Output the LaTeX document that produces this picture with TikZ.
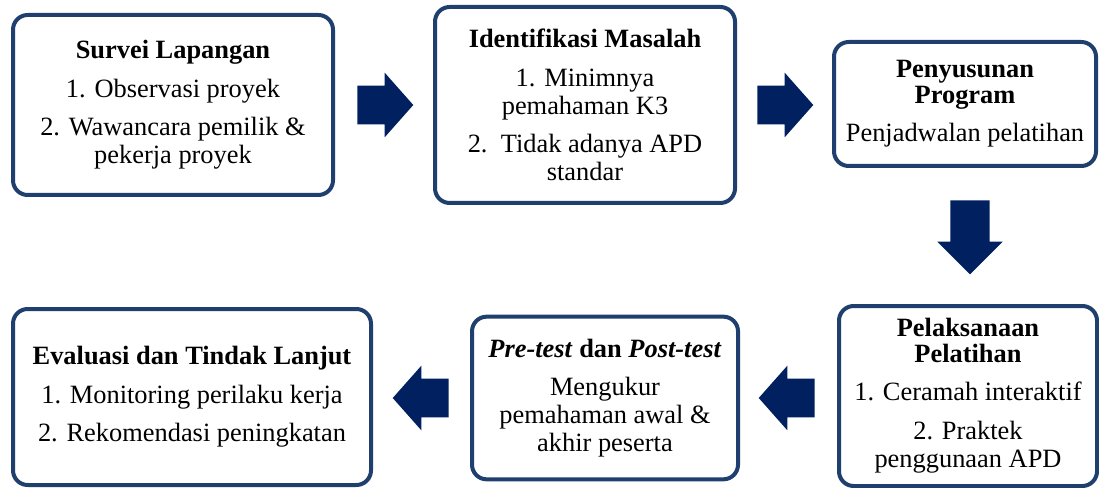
\documentclass[tikz,border=0pt]{standalone}
\usepackage{fontspec}
\setmainfont{Liberation Serif}
\usetikzlibrary{shapes.arrows,calc}

\definecolor{boxline}{RGB}{31,64,110}
\definecolor{navy}{RGB}{0,32,96}
\newcommand\gap{8pt}
\newcommand\shaft{\rule{0pt}{28.5pt}}
\newcommand\vshaft{\phantom{\rule{29pt}{29pt}}}

\tikzset{
  stage/.style={draw=boxline, line width=3pt, rounded corners=11pt, fill=white,
    align=center, inner sep=0pt, font=\fontsize{19.8}{21}\selectfont},
  blockarrow/.style={single arrow, fill=navy, draw=none, inner sep=0pt,
    single arrow head extend=9.75pt, anchor=tail,
    minimum height=42pt, single arrow tip angle=97},
}

\begin{document}
\begin{tikzpicture}[x=0.75pt, y=-0.75pt]

  \useasboundingbox (0,0) rectangle (1099,488);

  %% top row
  \node[stage, minimum width=240pt, minimum height=135pt] (surv) at (173,105)
    {\textbf{Survei Lapangan}\\[\gap]1. Observasi proyek\\[\gap]2. Wawancara pemilik \&\\pekerja proyek};
  \node[stage, minimum width=225pt, minimum height=147pt] (iden) at (585,105)
    {\textbf{Identifikasi Masalah}\\[\gap]1. Minimnya\\pemahaman K3\\[\gap]2.~~Tidak adanya APD\\standar};
  \node[stage, minimum width=196.5pt, minimum height=93pt] (prog) at (965,104)
    {\textbf{Penyusunan}\\[-2pt]\textbf{Program}\\[\gap]Penjadwalan pelatihan};

  %% bottom row
  \node[stage, minimum width=193.5pt, minimum height=135pt] (lat) at (968,396)
    {\textbf{Pelaksanaan}\\[-2pt]\textbf{Pelatihan}\\[\gap]1. Ceramah interaktif\\[\gap]2. Praktek\\penggunaan APD};
  \node[stage, minimum width=199.5pt, minimum height=122pt] (tes) at (605,398)
    {\textbf{\textit{Pre-test} dan \textit{Post-test}}\\[\gap]Mengukur\\pemahaman awal \&\\akhir peserta};
  \node[stage, minimum width=268.5pt, minimum height=132pt] (eval) at (192,397)
    {\textbf{Evaluasi dan Tindak Lanjut}\\[\gap]1. Monitoring perilaku kerja\\[\gap]2. Rekomendasi peningkatan};

  %% block arrows
  \node[blockarrow] (a1) at ($(surv.east)+(22,0)$) {\shaft}; %% surv iden
  \node[blockarrow] (a2) at ($(iden.east)+(20,0)$) {\shaft}; %% iden prog
  \node[blockarrow, shape border rotate=270, minimum height=55.5pt, single arrow tip angle=90]
    (a3) at ($(prog.south)+(5,32)$) {\vshaft}; %% prog lat
  \node[blockarrow, shape border rotate=180] (a4) at ($(lat.west)+(-22,2)$) {\shaft}; %% lat tes
  \node[blockarrow, shape border rotate=180] (a5) at ($(tes.west)+(-21,0)$) {\shaft}; %% tes eval

\end{tikzpicture}
\end{document}
